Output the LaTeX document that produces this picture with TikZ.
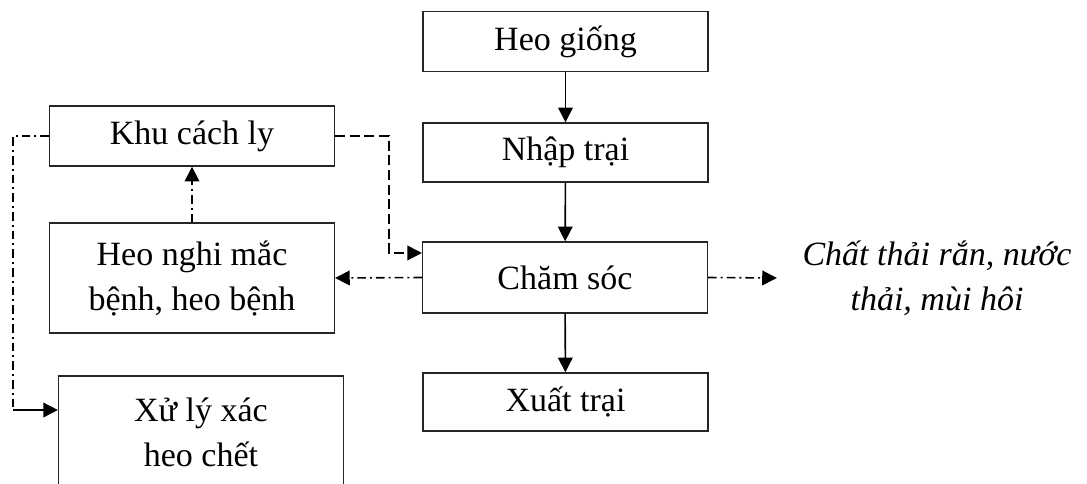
\documentclass[tikz,border=0pt]{standalone}
\usepackage{fontspec}
\setmainfont{Liberation Serif}
\usetikzlibrary{arrows.meta}
\definecolor{linecol}{HTML}{262626}

\tikzset{
  box/.style={draw=linecol, line width=1.1pt, minimum width=213.5pt, align=center,
    inner sep=0pt, font=\fontsize{25.5pt}{33.75pt}\selectfont},
  flow/.style={-{Triangle[length=11pt,width=11pt]}, line width=1.2pt},
  dashline/.style={flow, dash pattern=on 7.5pt off 3.5pt},
  dotline/.style={line width=1.2pt, dash pattern=on 6.5pt off 3pt on 1.5pt off 3pt},
  dotflow/.style={flow, dotline}
}

\begin{document}
\begin{tikzpicture}[x=0.75pt, y=-0.75pt]
\useasboundingbox (0,0) rectangle (1087,483);

% === main column ===
\node[box, minimum height=45pt] (giong) at (565.5,41.5) {Heo giống};
\node[box, minimum height=44.25pt] (nhap) at (565.5,152.5) {Nhập trại};
\node[box, minimum height=53.25pt] (cham) at (565,277.5) {Chăm sóc};
\node[box, minimum height=43.5pt] (xuat) at (565.5,402) {Xuất trại};

% === left column ===
\node[box, minimum height=45pt] (khu) at (192,136) {Khu cách ly};
\node[box, minimum height=82.5pt] (nghi) at (192,278) {Heo nghi mắc\\bệnh, heo bệnh};
\node[box, minimum height=84pt] (xuly) at (201,432) {Xử lý xác\\heo chết};

% === output ===
\node[font=\fontsize{25.5pt}{33.75pt}\selectfont\itshape, align=center,
  inner xsep=19pt, inner ysep=5pt] (chat) at (937,278) {Chất thải rắn, nước\\thải, mùi hôi};

% solid flow
\draw[flow] (giong) -- (nhap);
\draw[flow] (nhap) -- (cham);
\draw[flow] (cham) -- (xuat);

% side flows
\draw[dotflow] (cham.west) -- (nghi.east);
\draw[dotflow] (nghi.north) -- (khu.south);
\draw[dotflow] (cham.east) -- (chat.west);
\draw[dashline] (khu.east) -- ++(54,0) |- ([yshift=18.4pt]cham.west);

\coordinate (corner) at (13,410);
\draw[dotline] (khu.west) -| (corner);
\draw[flow] (corner) -- (corner -| xuly.west);

\end{tikzpicture}
\end{document}
